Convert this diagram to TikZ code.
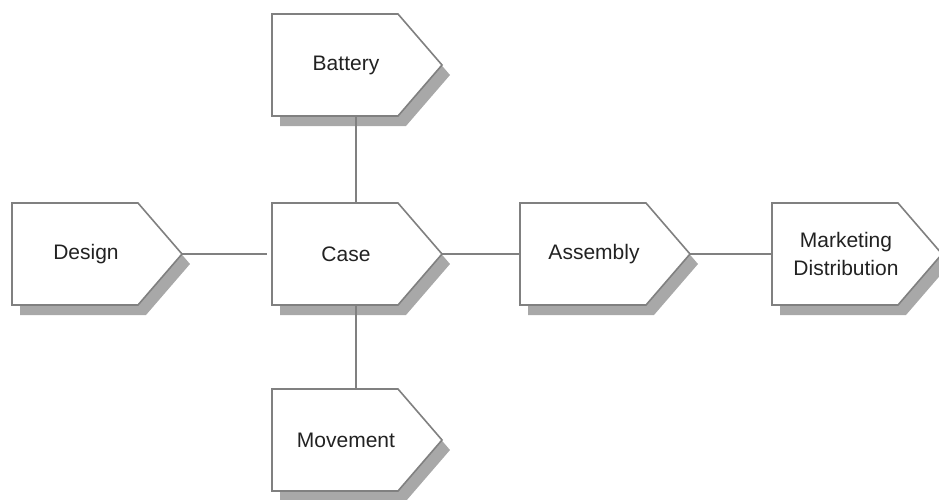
\documentclass[tikz,border=0pt]{standalone}
\usepackage{fontspec}
\setmainfont{Liberation Sans}
\definecolor{edgec}{HTML}{808080}
\definecolor{shadc}{HTML}{A8A8A8}
\definecolor{txtc}{HTML}{222222}
\tikzset{
  boxline/.style={draw=edgec, line width=1.6pt, fill=white, line join=miter},
  shadowc/.style={fill=shadc},
  lbl/.style={text=txtc, font=\fontsize{21}{28}\selectfont, align=center, inner sep=0pt},
  conn/.style={draw=edgec, line width=2pt}
}
\newcommand\procbox[4]{%
  \fill[shadowc] (#2+8,#3+10) -- ++(126,0) -- ++(44,51) -- ++(-44,51) -- ++(-126,0) -- cycle;
  \draw[boxline] (#2,#3) -- ++(126,0) -- ++(44,51) -- ++(-44,51) -- ++(-126,0) -- cycle;
  \node[lbl] (#1) at (#2+74,#3+51) {#4};
  \coordinate (#1-w) at (#2,#3+51);
  \coordinate (#1-e) at (#2+170,#3+51);
  \coordinate (#1-n) at (#2+84,#3);
  \coordinate (#1-s) at (#2+84,#3+102);
}
\begin{document}
\begin{tikzpicture}[x=1pt,y=-1pt]
\useasboundingbox (0,0) rectangle (939,499);
\procbox{design}{12}{203}{Design}
\procbox{case}{272}{203}{Case}
\procbox{assembly}{520}{203}{Assembly}
\procbox{market}{772}{203}{Marketing\\Distribution}
\procbox{battery}{272}{14}{Battery}
\procbox{movement}{272}{389}{Movement}
\draw[conn, shorten >=5pt] (design-e) -- (case-w);
\draw[conn] (case-e) -- (assembly-w);
\draw[conn] (assembly-e) -- (market-w);
\draw[conn] (battery-s) -- (case-n);
\draw[conn] (case-s) -- (movement-n);
\end{tikzpicture}
\end{document}
